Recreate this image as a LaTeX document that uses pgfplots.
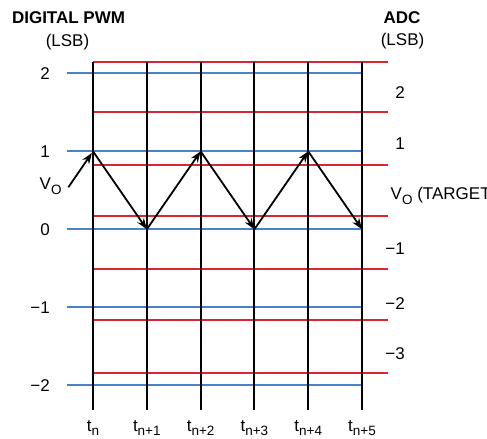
\documentclass[border=0pt]{standalone}
\usepackage{fontspec}
\setmainfont{Liberation Sans}
\usepackage{pgfplots}
\pgfplotsset{compat=1.18}
\usetikzlibrary{arrows.meta}
\definecolor{pwmblue}{RGB}{74,130,198}
\definecolor{adcred}{RGB}{218,38,48}
\newcommand\sub[1]{\raisebox{-4.5pt}{\fontsize{13.5}{15}\selectfont #1}}
\tikzset{
  redl/.style={adcred, line width=1.9pt},
  bluel/.style={pwmblue, line width=1.8pt},
  vline/.style={black, line width=2pt},
  arr/.style={black, line width=1.8pt, -{Stealth[length=11pt,width=8pt]}},
  lab/.style={inner sep=0pt},
}
\begin{document}
\begin{tikzpicture}
\fontsize{17}{20}\selectfont
\begin{axis}[
  scale only axis, width=487pt, height=439pt,
  xmin=-1.729, xmax=7.323, ymin=-2.692, ymax=2.943,
  hide axis, clip=false,
]
\path (rel axis cs:0,0) rectangle (rel axis cs:1,1);
% ADC (red) levels
\addplot[redl] coordinates {(0,2.15) (5.483,2.15)};
\addplot[redl] coordinates {(0,1.50) (5.483,1.50)};
\addplot[redl] coordinates {(0,0.82) (5.483,0.82)};
\addplot[redl] coordinates {(0,0.17) (5.483,0.17)};
\addplot[redl] coordinates {(0,-0.51) (5.483,-0.51)};
\addplot[redl] coordinates {(0,-1.16) (5.483,-1.16)};
\addplot[redl] coordinates {(0,-1.85) (5.483,-1.85)};
% PWM (blue) levels
\addplot[bluel] coordinates {(-0.489,2.005) (5,2.005)};
\addplot[bluel] coordinates {(-0.489,1) (5,1)};
\addplot[bluel] coordinates {(-0.489,0) (5,0)};
\addplot[bluel] coordinates {(-0.489,-1) (5,-1)};
\addplot[bluel] coordinates {(-0.489,-2) (5,-2)};
% sample instants
\addplot[vline] coordinates {(0,2.15) (0,-2.32)};
\addplot[vline] coordinates {(1,2.15) (1,-2.32)};
\addplot[vline] coordinates {(2,2.15) (2,-2.32)};
\addplot[vline] coordinates {(3,2.15) (3,-2.32)};
\addplot[vline] coordinates {(4,2.15) (4,-2.32)};
\addplot[vline] coordinates {(5,2.15) (5,-2.32)};
% output zigzag
\addplot[arr] coordinates {(0,1) (1,0)};
\addplot[arr] coordinates {(1,0) (2,1)};
\addplot[arr] coordinates {(2,1) (3,0)};
\addplot[arr] coordinates {(3,0) (4,1)};
\addplot[arr] coordinates {(4,1) (5,0)};
\addplot[arr] coordinates {(-0.459,0.539) (-0.02,0.98)};
% left labels
\node[lab, anchor=east] at (axis cs:-0.799,2) {2};
\node[lab, anchor=east] at (axis cs:-0.799,1) {1};
\node[lab, anchor=east] at (axis cs:-0.799,0) {0};
\node[lab, anchor=east] at (axis cs:-0.799,-1) {−1};
\node[lab, anchor=east] at (axis cs:-0.799,-2) {−2};
\node[lab, anchor=base west] at (axis cs:-0.995,0.51) {V\sub{O}};
% right labels
\node[lab, anchor=east] at (axis cs:5.799,1.753) {2};
\node[lab, anchor=east] at (axis cs:5.799,1.104) {1};
\node[lab, anchor=east] at (axis cs:5.799,-0.244) {−1};
\node[lab, anchor=east] at (axis cs:5.799,-0.95) {−2};
\node[lab, anchor=east] at (axis cs:5.799,-1.60) {−3};
\node[lab, overlay, anchor=base west] at (axis cs:5.530,0.38) {V\sub{O} (TARGET)};
% titles
\node[lab, font=\fontsize{17}{20}\selectfont\bfseries] at (axis cs:-0.455,2.712) {DIGITAL PWM};
\node[lab] at (axis cs:-0.474,2.408) {(LSB)};
\node[lab, font=\fontsize{17}{20}\selectfont\bfseries] at (axis cs:5.743,2.712) {ADC};
\node[lab] at (axis cs:5.753,2.417) {(LSB)};
% time labels
\node[lab, anchor=base] at (axis cs:0,-2.59) {t\sub{n}};
\node[lab, anchor=base] at (axis cs:1,-2.59) {t\sub{n+1}};
\node[lab, anchor=base] at (axis cs:2,-2.59) {t\sub{n+2}};
\node[lab, anchor=base] at (axis cs:3,-2.59) {t\sub{n+3}};
\node[lab, anchor=base] at (axis cs:4,-2.59) {t\sub{n+4}};
\node[lab, anchor=base] at (axis cs:5,-2.59) {t\sub{n+5}};
\end{axis}
\end{tikzpicture}
\end{document}
